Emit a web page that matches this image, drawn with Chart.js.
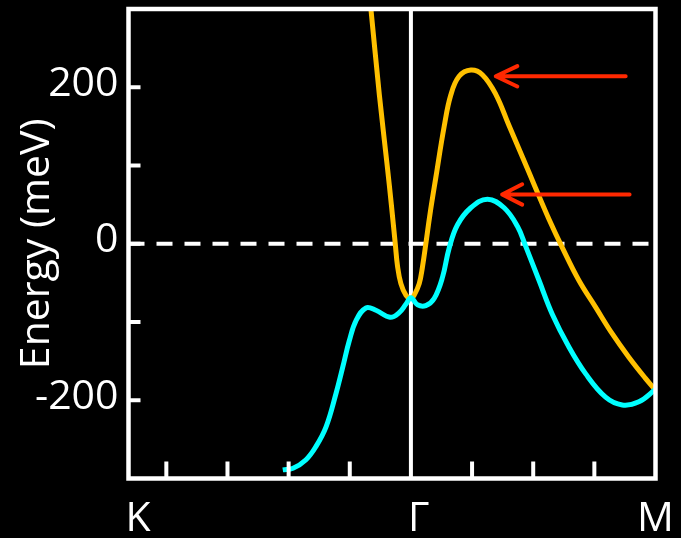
<!DOCTYPE html>
<html>
<head>
<meta charset="utf-8">
<script src="https://cdn.jsdelivr.net/npm/chart.js@4.4.1/dist/chart.umd.min.js"></script>
<style>
  html, body { margin: 0; padding: 0; background: #000; }
  canvas { display: block; }
</style>
</head>
<body>
<canvas id="bandas" width="681" height="538"></canvas>
<script>
// k ao longo de K-Γ-M, em unidades de |ΓM| (|ΓK| = 2/√3)
const kCiano = [-0.524, -0.482, -0.429, -0.388, -0.347, -0.306, -0.279, -0.252, -0.224, -0.184, -0.143, -0.085, -0.048, -0.020, 0,
                0.027, 0.061, 0.095, 0.129, 0.156, 0.19, 0.245, 0.313, 0.381, 0.436, 0.469, 0.524, 0.578, 0.646, 0.714, 0.796, 0.864, 0.932, 1];
const eCiano = [-289, -287, -276, -259, -234, -191, -158, -124, -98, -82, -85, -94, -88, -77, -69,
                -78, -79, -70, -43, -6, 24, 46, 57, 46, 22, -3, -47, -90, -132, -166, -196, -206, -202, -186];

const kAmarelo = [-0.19, -0.163, -0.129, -0.097, -0.080, -0.064, -0.055, -0.041, -0.020, 0, 0.013, 0.034, 0.047, 0.061, 0.078, 0.102,
                  0.136, 0.163, 0.197, 0.245, 0.292, 0.347, 0.401, 0.456, 0.51, 0.565, 0.619, 0.687, 0.755, 0.823, 0.891, 0.959, 1];
const eAmarelo = [378, 298, 190, 100, 50, 0, -28, -51, -66, -70, -66, -51, -30, 0, 38, 85,
                  150, 190, 214, 222, 216, 191, 151, 111, 71, 31, -5, -47, -81, -115, -145, -172, -187];

// setas: fim, ponta, aba de cima, ponta, aba de baixo
const seta1K = [0.878, 0.347, 0.435, 0.347, 0.435];
const seta1E = [214, 214, 227, 214, 201];
const seta2K = [0.894, 0.373, 0.455, 0.373, 0.455];
const seta2E = [63, 63, 76, 63, 50];

const kMin = -1.1547, kMax = 1;
const marcasY = [-200, -100, 0, 100, 200];
const marcasX = [-1, -0.75, -0.5, -0.25, 0.25, 0.5, 0.75];
const pontosAlta = ['K', 'Γ', 'M'];
const posAlta = [kMin, 0, kMax];

const pares = (ks, es) => ks.map((k, i) => ({ x: k, y: es[i] }));
const fonte = '"Open Sans", "DejaVu Sans", sans-serif';

// moldura branca, marcas para dentro e rótulos K Γ M
const moldura = {
  id: 'moldura',
  afterDatasetsDraw(chart) {
    const { ctx, chartArea: a, scales: { x, y } } = chart;
    ctx.save();
    ctx.strokeStyle = '#fff';
    ctx.lineWidth = 4;
    marcasY.forEach(v => {
      const py = y.getPixelForValue(v);
      ctx.beginPath(); ctx.moveTo(a.left, py); ctx.lineTo(a.left + 12, py); ctx.stroke();
    });
    marcasX.forEach(v => {
      const px = x.getPixelForValue(v);
      ctx.beginPath(); ctx.moveTo(px, a.bottom); ctx.lineTo(px, a.bottom - 17); ctx.stroke();
    });
    ctx.lineWidth = 4.5;
    ctx.strokeRect(a.left, a.top, a.right - a.left, a.bottom - a.top);

    ctx.fillStyle = '#fff';
    ctx.font = '41px ' + fonte;
    ctx.textBaseline = 'alphabetic';
    pontosAlta.forEach((t, i) => {
      const px = x.getPixelForValue(posAlta[i]);
      if (t === 'M') { ctx.textAlign = 'center'; ctx.fillText(t, px, 531); }
      else { ctx.textAlign = 'left'; ctx.fillText(t, px - 3, 531); }
    });
    ctx.restore();
  }
};

const linha = (dados, cor, largura, extra) => Object.assign({
  data: dados, borderColor: cor, borderWidth: largura, pointRadius: 0, fill: false
}, extra || {});

new Chart(document.getElementById('bandas'), {
  type: 'line',
  data: {
    datasets: [
      linha(pares(seta1K, seta1E), '#ff2800', 4, { borderCapStyle: 'round', borderJoinStyle: 'round' }),
      linha(pares(seta2K, seta2E), '#ff2800', 4, { borderCapStyle: 'round', borderJoinStyle: 'round' }),
      linha(pares(kCiano, eCiano), '#00ffff', 5, { tension: 0.4 }),
      linha(pares(kAmarelo, eAmarelo), '#ffc000', 5, { tension: 0.4 }),
      linha([{ x: 0, y: -300 }, { x: 0, y: 300 }], '#ffffff', 4),
      linha([{ x: kMin, y: 0 }, { x: kMax, y: 0 }], '#ffffff', 4, { borderDash: [16, 12] })
    ]
  },
  options: {
    responsive: false,
    animation: false,
    devicePixelRatio: 1,
    events: [],
    layout: { padding: { top: 9, right: 25.5, bottom: 59.5, left: 0 } },
    plugins: { legend: { display: false }, tooltip: { enabled: false } },
    scales: {
      x: { type: 'linear', min: kMin, max: kMax, display: false },
      y: {
        min: -300, max: 300,
        grid: { display: false, drawTicks: false },
        border: { display: false },
        ticks: {
          stepSize: 100,
          color: '#fff',
          padding: 10,
          labelOffset: -3,
          font: { family: fonte, size: 41 },
          callback: v => (v % 200 === 0 ? String(v) : '')
        },
        title: {
          display: true, text: 'Energy (meV)', color: '#fff',
          font: { family: fonte, size: 41 }, padding: { top: 13, bottom: 0 }
        },
        afterFit: s => { s.width = 128.5; s.paddingTop = 0; s.paddingBottom = 0; }
      }
    }
  },
  plugins: [moldura]
});
</script>
</body>
</html>
